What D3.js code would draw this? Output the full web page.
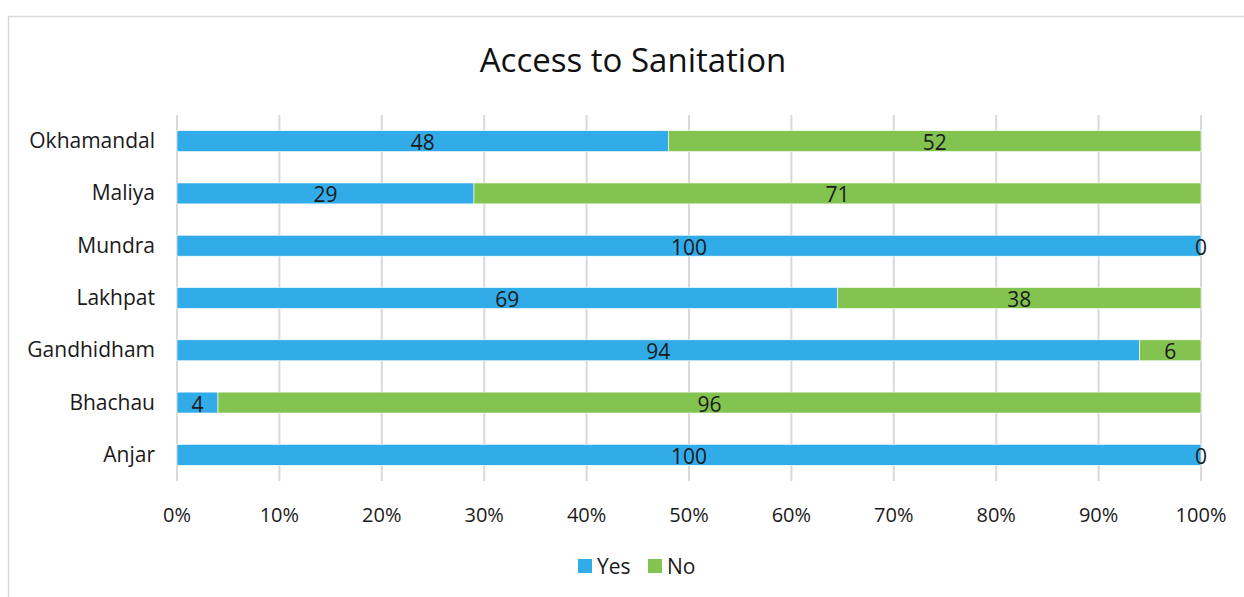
<!DOCTYPE html>
<html><head><meta charset="utf-8">
<script src="https://cdn.jsdelivr.net/npm/d3@7"></script>
<style>body{margin:0;background:#fff;} text{font-family:"Open Sans",Lato,sans-serif;}</style>
</head><body>
<svg id="c" width="1244" height="597"></svg>
<script>
const categories = ["Okhamandal","Maliya","Mundra","Lakhpat","Gandhidham","Bhachau","Anjar"];
const yesValues = [48,29,100,69,94,4,100];
const noValues = [52,71,0,38,6,96,0];
const tickLabels = ["0%","10%","20%","30%","40%","50%","60%","70%","80%","90%","100%"];
const seriesNames = ["Yes","No"];
const colors = ["#32abe9","#83c34f"];

const svg = d3.select("#c");
svg.append("rect").attr("x",8.5).attr("y",16.5).attr("width",1260).attr("height",620)
  .attr("fill","#fff").attr("stroke","#d9d9d9").attr("stroke-width",1.5);

const L=177,R=1201,T=115,B=481;
const x = d3.scaleLinear().domain([0,1]).range([L,R]);
const y = d3.scaleBand().domain(categories).range([T,B]).paddingInner(0.6).paddingOuter(0.3);

const rows = categories.map((c,i)=>({cat:c,yes:yesValues[i],no:noValues[i],tot:yesValues[i]+noValues[i]}));

svg.append("g").selectAll("line").data(d3.range(0,1.0001,0.1)).join("line")
  .attr("x1",d=>x(d)).attr("x2",d=>x(d)).attr("y1",T).attr("y2",B)
  .attr("stroke","#d9d9d9").attr("stroke-width",2);

svg.append("text").attr("x",633).attr("y",72).attr("text-anchor","middle")
  .attr("font-size",33).attr("fill","#111").text("Access to Sanitation");

const keys=["yes","no"];
keys.forEach((k,ki)=>{
  const g=svg.append("g");
  rows.forEach(r=>{
    const x0 = ki===0?0:r.yes/r.tot, x1 = ki===0?r.yes/r.tot:1;
    g.append("rect").attr("x",x(x0)).attr("y",y(r.cat)).attr("width",x(x1)-x(x0))
      .attr("height",y.bandwidth()).attr("fill",colors[ki])
      .attr("stroke", x1>x0?"#fff":"none").attr("stroke-width",0.6);
  });
});
keys.forEach((k,ki)=>{
  rows.forEach(r=>{
    const x0 = ki===0?0:r.yes/r.tot, x1 = ki===0?r.yes/r.tot:1;
    svg.append("text").attr("x",x((x0+x1)/2)).attr("y",y(r.cat)+y.bandwidth()/2+9)
      .attr("text-anchor","middle").attr("font-size",21).attr("fill","#1a1a1a")
      .text(r[k]);
  });
});

svg.append("g").selectAll("text").data(categories).join("text")
  .attr("x",155).attr("y",d=>y(d)+y.bandwidth()/2+7).attr("text-anchor","end")
  .attr("font-size",21).attr("fill","#1a1a1a").text(d=>d);

svg.append("g").selectAll("text").data(tickLabels).join("text")
  .attr("x",(d,i)=>x(i/10)).attr("y",522).attr("text-anchor","middle")
  .attr("font-size",20).attr("fill","#1a1a1a").text(d=>d);

const lg=svg.append("g");
const lx=[578,648];
seriesNames.forEach((s,i)=>{
  lg.append("rect").attr("x",lx[i]).attr("y",559).attr("width",14).attr("height",14).attr("fill",colors[i]);
  lg.append("text").attr("x",lx[i]+19).attr("y",574).attr("font-size",21).attr("fill","#1a1a1a").text(s);
});
</script>
</body></html>
